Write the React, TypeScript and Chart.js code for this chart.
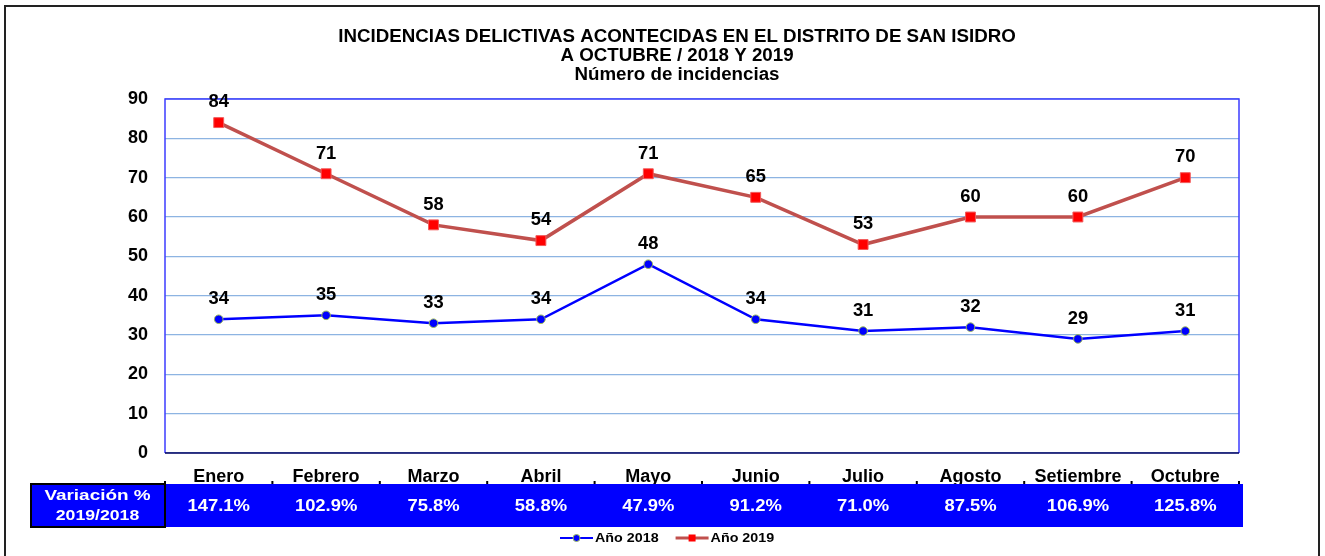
import React, { useEffect, useRef } from "react";
import { Chart, registerables } from "chart.js";

Chart.register(...registerables);

const months = ["Enero", "Febrero", "Marzo", "Abril", "Mayo", "Junio", "Julio", "Agosto", "Setiembre", "Octubre"];
const values2018 = [34, 35, 33, 34, 48, 34, 31, 32, 29, 31];
const values2019 = [84, 71, 58, 54, 71, 65, 53, 60, 60, 70];
const variation = ["147.1%", "102.9%", "75.8%", "58.8%", "47.9%", "91.2%", "71.0%", "87.5%", "106.9%", "125.8%"];
const variationLabel = ["Variación %", "2019/2018"];
const seriesNames = ["Año 2018", "Año 2019"];
const titleLines = [
  "INCIDENCIAS DELICTIVAS ACONTECIDAS EN EL DISTRITO DE SAN ISIDRO",
  "A OCTUBRE / 2018 Y 2019",
  "Número de incidencias",
];
const yMin = 0;
const yMax = 90;
const yStep = 10;

const FONT = "'Liberation Sans', Arial, Helvetica, sans-serif";
const BLUE = "#0000FF";
const RED_LINE = "#C0504D";
const RED_MARK = "#FF0000";

function drawStretched(ctx: CanvasRenderingContext2D, text: string, x: number, y: number, size: number, sx: number, color: string, align: CanvasTextAlign = "center") {
  ctx.save();
  ctx.font = `bold ${size}px ${FONT}`;
  ctx.fillStyle = color;
  ctx.textAlign = align;
  ctx.textBaseline = "middle";
  ctx.translate(x, y);
  ctx.scale(sx, 1);
  ctx.fillText(text, 0, 0);
  ctx.restore();
}

const decorPlugin = {
  id: "decor",
  beforeDatasetsDraw(chart: any) {
    const { ctx, chartArea } = chart;
    const { left, right, top, bottom } = chartArea;
    ctx.save();
    ctx.lineWidth = 1.5;
    ctx.strokeStyle = "#3C3CFF";
    ctx.beginPath();
    ctx.moveTo(left, bottom);
    ctx.lineTo(left, top);
    ctx.lineTo(right, top);
    ctx.lineTo(right, bottom);
    ctx.stroke();
    ctx.strokeStyle = "#000060";
    ctx.beginPath();
    ctx.moveTo(left, bottom);
    ctx.lineTo(right, bottom);
    ctx.stroke();
    ctx.restore();
  },
  afterDatasetsDraw(chart: any) {
    const { ctx } = chart;
    chart.data.datasets.forEach((ds: any, di: number) => {
      const meta = chart.getDatasetMeta(di);
      meta.data.forEach((pt: any, i: number) => {
        drawStretched(ctx, String(ds.data[i]), pt.x, pt.y - 20, 17.5, 1.05, "#000");
      });
    });
  },
  afterDraw(chart: any) {
    const { ctx, chartArea, scales } = chart;
    const xs = scales.x;
    // outer frame
    ctx.save();
    ctx.strokeStyle = "#222";
    ctx.lineWidth = 2;
    ctx.strokeRect(5, 6, 1314, 560);
    ctx.restore();

    // title
    titleLines.forEach((t, i) => {
      drawStretched(ctx, t, 677, 37 + i * 19, 17.5, 1.07, "#000");
    });

    // band
    const bandTop = 484;
    const bandBottom = 527;
    const bandLeft = 30;
    const bandRight = 1243;
    ctx.save();
    ctx.fillStyle = BLUE;
    ctx.fillRect(bandLeft, bandTop, bandRight - bandLeft, bandBottom - bandTop);
    ctx.strokeStyle = "#000";
    ctx.lineWidth = 2;
    ctx.strokeRect(bandLeft + 1, bandTop, chartArea.left - bandLeft - 1, bandBottom - bandTop);
    // small tick marks at category boundaries
    const step = xs.getPixelForValue(1) - xs.getPixelForValue(0);
    ctx.fillStyle = "#000";
    for (let i = 0; i <= months.length; i++) {
      const bx = xs.getPixelForValue(0) - step / 2 + i * step;
      ctx.fillRect(bx - 1, bandTop - 3, 2, 3);
    }
    ctx.restore();
    drawStretched(ctx, variationLabel[0], (bandLeft + chartArea.left) / 2, 496, 15.5, 1.22, "#fff");
    drawStretched(ctx, variationLabel[1], (bandLeft + chartArea.left) / 2, 516, 15.5, 1.14, "#fff");
    variation.forEach((v, i) => {
      drawStretched(ctx, v, xs.getPixelForValue(i), 507, 16, 1.15, "#fff");
    });

    // legend
    const ly = 538;
    let lx = 560;
    ctx.save();
    chart.data.datasets.forEach((ds: any, di: number) => {
      ctx.strokeStyle = ds.borderColor;
      ctx.lineWidth = di === 0 ? 2 : 3;
      ctx.beginPath();
      ctx.moveTo(lx, ly);
      ctx.lineTo(lx + 33, ly);
      ctx.stroke();
      const mx = lx + 16.5;
      if (di === 0) {
        ctx.beginPath();
        ctx.arc(mx, ly, 3.5, 0, Math.PI * 2);
        ctx.fillStyle = ds.pointBackgroundColor;
        ctx.fill();
        ctx.lineWidth = 1;
        ctx.strokeStyle = ds.pointBorderColor;
        ctx.stroke();
      } else {
        ctx.fillStyle = ds.pointBackgroundColor;
        ctx.fillRect(mx - 3.5, ly - 3.5, 7, 7);
      }
      drawStretched(ctx, seriesNames[di], lx + 35, ly, 13, 1.1, "#000", "left");
      ctx.font = `bold 13px ${FONT}`;
      lx += 35 + ctx.measureText(seriesNames[di]).width * 1.1 + 17;
    });
    ctx.restore();
  },
};

export default function App() {
  const ref = useRef<HTMLCanvasElement | null>(null);
  useEffect(() => {
    if (!ref.current) return;
    const chart = new Chart(ref.current, {
      type: "line",
      data: {
        labels: months,
        datasets: [
          {
            label: seriesNames[0],
            data: values2018,
            borderColor: BLUE,
            borderWidth: 2.5,
            pointStyle: "circle",
            pointRadius: 4.3,
            pointBackgroundColor: BLUE,
            pointBorderColor: "#9BBB59",
            pointBorderWidth: 1,
            tension: 0,
          },
          {
            label: seriesNames[1],
            data: values2019,
            borderColor: RED_LINE,
            borderWidth: 3.5,
            pointStyle: "rect",
            pointRadius: 7,
            pointBackgroundColor: RED_MARK,
            pointBorderColor: "#F25A5A",
            pointBorderWidth: 1,
            tension: 0,
          },
        ],
      },
      options: {
        responsive: false,
        animation: false,
        layout: { padding: { left: 0, right: 86, top: 99, bottom: 72 } },
        plugins: {
          legend: { display: false },
          title: { display: false },
          tooltip: { enabled: false },
        },
        scales: {
          x: {
            offset: true,
            grid: { display: false, drawTicks: false, offset: true },
            border: { display: false },
            ticks: {
              color: "#000",
              padding: 13,
              font: { family: FONT, size: 18, weight: "bold" },
              maxRotation: 0,
              autoSkip: false,
            },
            afterFit: (axis: any) => {
              axis.height = 31;
            },
          },
          y: {
            min: yMin,
            max: yMax,
            grid: { color: "#8DB4E2", lineWidth: 1.2, drawTicks: false },
            border: { display: false },
            ticks: {
              stepSize: yStep,
              color: "#000",
              padding: 17,
              font: { family: FONT, size: 18, weight: "bold" },
            },
            afterFit: (axis: any) => {
              axis.width = 165;
            },
          },
        },
      },
      plugins: [decorPlugin],
    });
    return () => chart.destroy();
  }, []);
  return (
    <div style={{ position: "absolute", left: 0, top: 0, width: 1325, height: 556, background: "#fff" }}>
      <canvas ref={ref} width={1325} height={556} style={{ width: 1325, height: 556, display: "block" }} />
    </div>
  );
}
